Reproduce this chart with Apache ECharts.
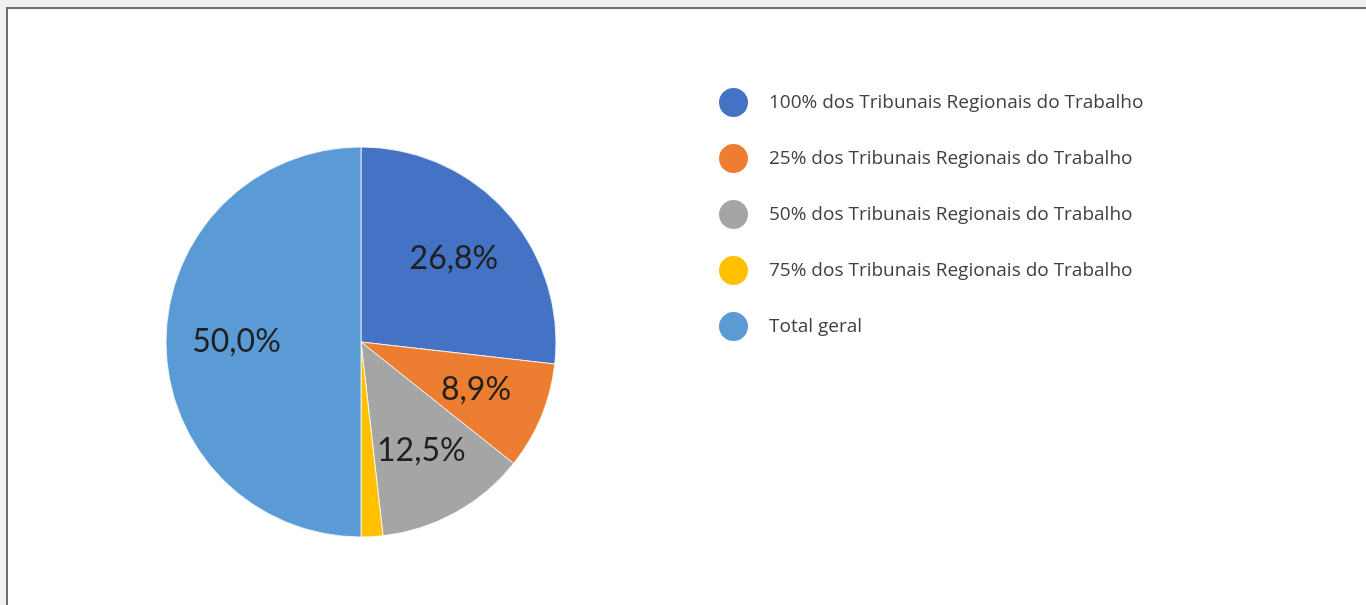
<!DOCTYPE html>
<html>
<head>
<meta charset="utf-8">
<script src="https://cdn.jsdelivr.net/npm/echarts@6/dist/echarts.min.js"></script>
<style>
html, body { margin: 0; padding: 0; background: #f0f0f0; }
#chart { width: 1366px; height: 605px; }
</style>
</head>
<body>
<div id="chart"></div>
<script>
// fatias do gráfico de pizza
var categorias = [
    '100% dos Tribunais Regionais do Trabalho',
    '25% dos Tribunais Regionais do Trabalho',
    '50% dos Tribunais Regionais do Trabalho',
    '75% dos Tribunais Regionais do Trabalho',
    'Total geral'
];
var valores = [26.8, 8.9, 12.5, 1.8, 50.0];
var cores = ['#4472C4', '#ED7D31', '#A5A5A5', '#FFC000', '#5B9BD5'];

var dados = categorias.map(function (nome, i) {
    return { name: nome, value: valores[i], itemStyle: { color: cores[i] } };
});

var chart = echarts.init(document.getElementById('chart'));
var option = {
    backgroundColor: '#f0f0f0',
    animation: false,
    graphic: [{
        type: 'rect',
        silent: true,
        z: -10,
        shape: { x: 7, y: 8, width: 1420, height: 700 },
        style: { fill: '#ffffff', stroke: '#6e6e6e', lineWidth: 2 }
    }],
    legend: {
        orient: 'vertical',
        left: 712,
        top: 81,
        icon: 'circle',
        itemWidth: 31,
        itemHeight: 31,
        itemGap: 23,
        selectedMode: false,
        data: categorias,
        textStyle: {
            fontFamily: 'Open Sans',
            fontSize: 19,
            color: '#404040',
            padding: [0, 0, 0, 15]
        }
    },
    series: [
        {
            type: 'pie',
            center: [361, 342],
            radius: [0, 195],
            startAngle: 90,
            clockwise: true,
            label: { show: false },
            labelLine: { show: false },
            itemStyle: { borderColor: '#ffffff', borderWidth: 0.8 },
            data: dados
        },
        {
            // série transparente só para posicionar os rótulos
            type: 'pie',
            silent: true,
            center: [361, 342],
            radius: [48, 195],
            startAngle: 90,
            clockwise: true,
            minShowLabelAngle: 10,
            itemStyle: { color: 'rgba(0,0,0,0)' },
            label: {
                show: true,
                position: 'inside',
                fontFamily: 'Lato',
                fontSize: 32,
                color: '#1f1f1f',
                formatter: function (p) {
                    return p.value.toFixed(1).replace('.', ',') + '%';
                }
            },
            labelLine: { show: false },
            data: valores.map(function (v, i) { return { name: categorias[i], value: v }; })
        }
    ]
};
chart.setOption(option);
</script>
</body>
</html>
